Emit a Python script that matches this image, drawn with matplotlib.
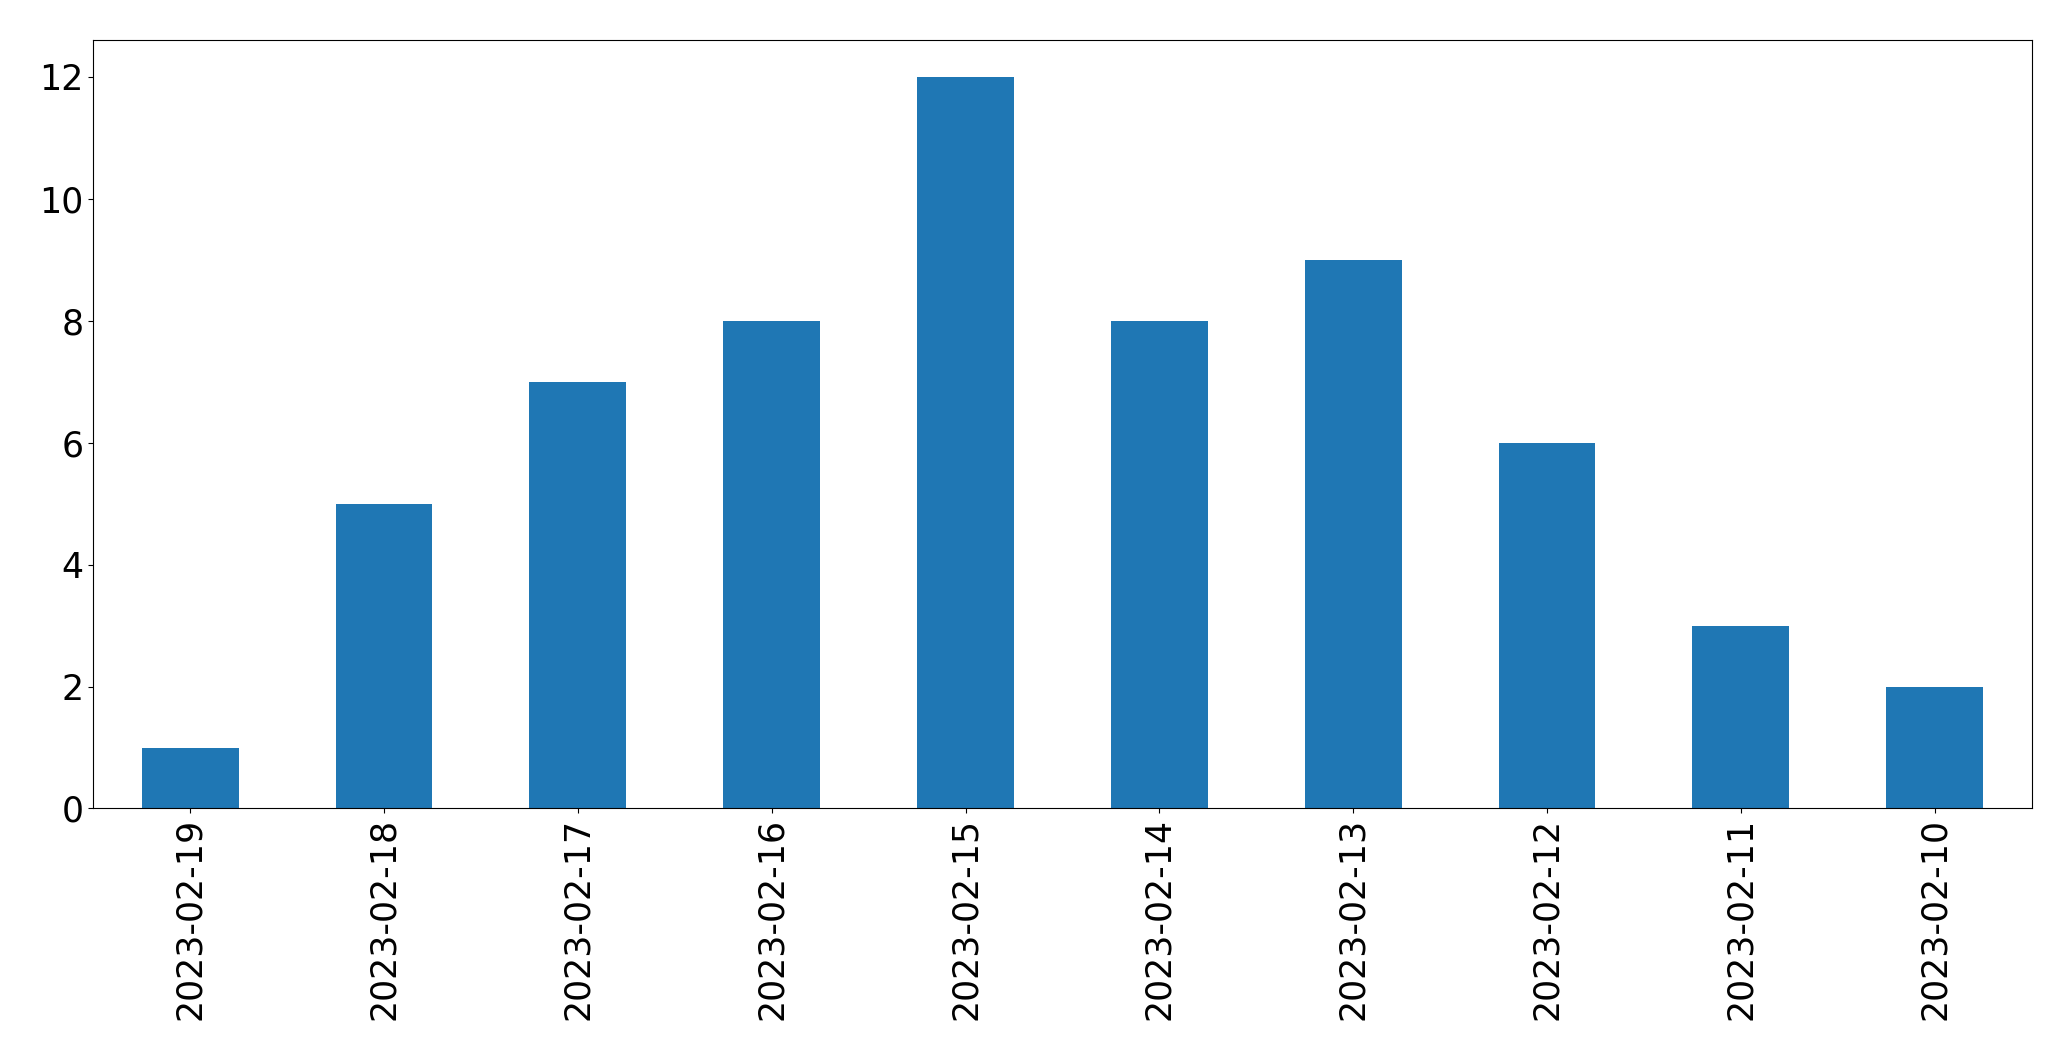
import matplotlib
matplotlib.use("Agg")
import matplotlib.pyplot as plt
import pandas as pd

dates = ['2023-02-19', '2023-02-18', '2023-02-17', '2023-02-16', '2023-02-15',
         '2023-02-14', '2023-02-13', '2023-02-12', '2023-02-11', '2023-02-10']
counts = [1, 5, 7, 8, 12, 8, 9, 6, 3, 2]

series = pd.Series(counts, index=dates)

fig, ax = plt.subplots(figsize=(20.71, 10.61), dpi=100)
series.plot(kind='bar', ax=ax, color='#1f77b4', fontsize=25)
ax.set_yticks([0, 2, 4, 6, 8, 10, 12])
fig.subplots_adjust(left=0.045, right=0.981, top=0.962, bottom=0.238)
fig.savefig('out.png', dpi=100)
